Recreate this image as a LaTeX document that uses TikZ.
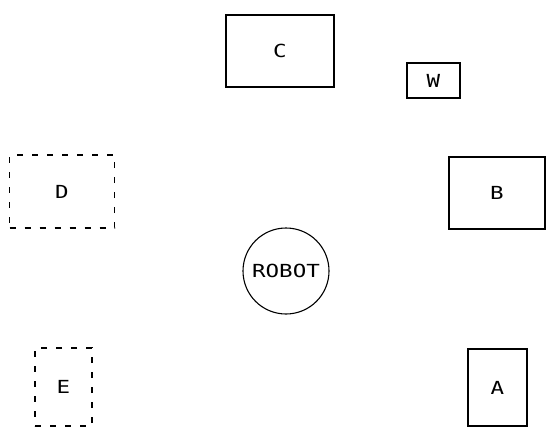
\documentclass[tikz,border=0pt]{standalone}
\usepackage{fontspec}
\setmonofont[FakeStretch=1.25]{DejaVu Sans Mono}
\begin{document}
\begin{tikzpicture}[x=1pt,y=-1pt,
  obj/.style={draw=black,line width=1.1pt,minimum width=#1,inner sep=0pt},
  dashobj/.style={draw=black,line width=1.1pt,dash pattern=on 6pt off 9pt,inner sep=0pt},
  lbl/.style={font=\ttfamily\fontsize{18}{20}\selectfont}]
\useasboundingbox (0,0) rectangle (546,428);
% workspace objects
\node[obj=108pt,minimum height=72pt,lbl] (C) at (280,51) {C};
\node[obj=53pt,minimum height=35pt,lbl] (W) at (433.5,80.5) {W};
\node[dashobj,minimum width=105pt,minimum height=73pt,lbl] (D) at (62,191.5) {D};
\node[obj=96pt,minimum height=72pt,lbl] (B) at (497,193) {B};
\node[dashobj,minimum width=57pt,minimum height=78pt,lbl] (E) at (63.5,387) {E};
\node[obj=59pt,minimum height=77pt,lbl] (A) at (497.5,387.5) {A};
% the robot
\node[circle,draw=black,line width=1.1pt,minimum size=86pt,inner sep=0pt,lbl] (R) at (286,271) {ROBOT};
\end{tikzpicture}
\end{document}
